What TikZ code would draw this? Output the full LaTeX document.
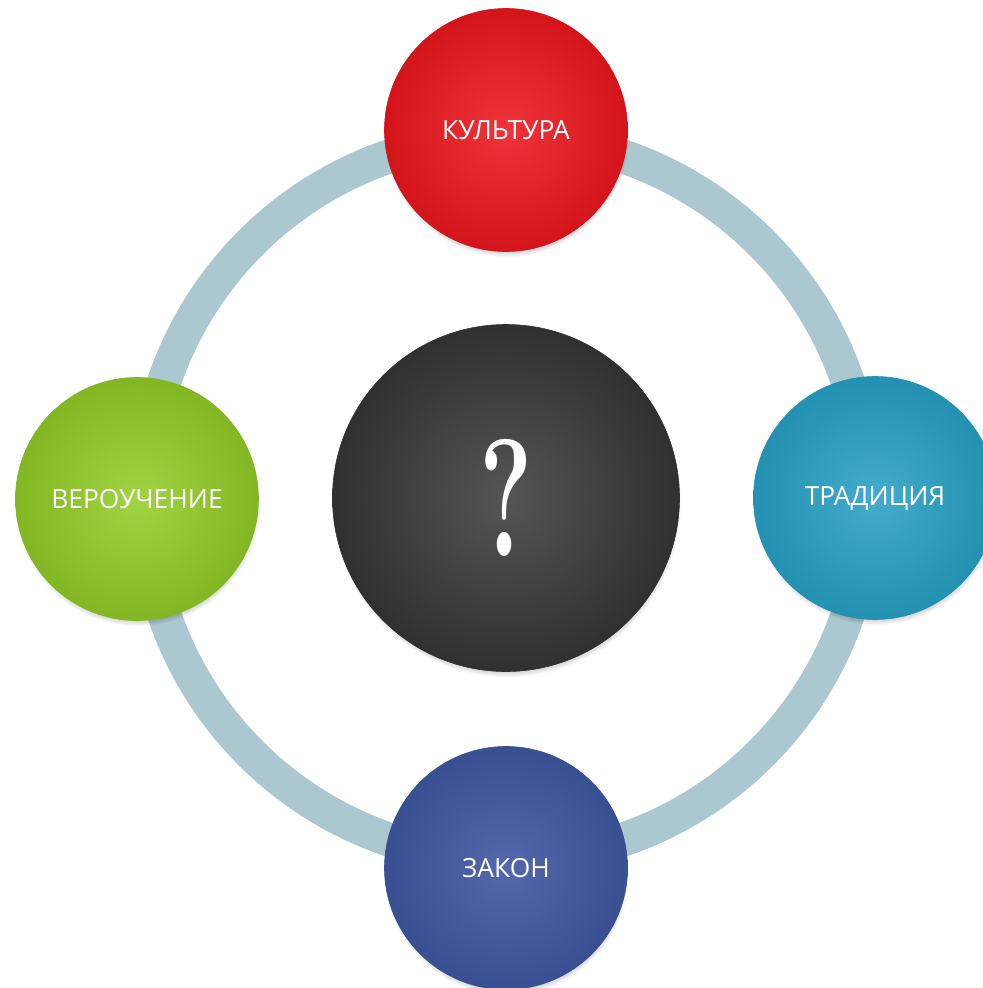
\documentclass[tikz,border=0pt]{standalone}
\usepackage{fontspec}
\setsansfont{Open Sans}
\usetikzlibrary{calc}
\definecolor{ringc}{HTML}{ABC7CF}
\definecolor{redin}{HTML}{F0333A}
\definecolor{redout}{HTML}{D3151B}
\definecolor{grnin}{HTML}{A0D442}
\definecolor{grnout}{HTML}{82B623}
\definecolor{tealin}{HTML}{44ABCB}
\definecolor{tealout}{HTML}{2391B1}
\definecolor{bluin}{HTML}{5468AB}
\definecolor{bluout}{HTML}{384F91}
\definecolor{darkin}{HTML}{555555}
\definecolor{darkout}{HTML}{303030}
\tikzset{
  ball/.style={circle, minimum size=#1, inner sep=0pt, text=white,
    font=\sffamily\fontsize{26.5}{30}\selectfont},
  ringline/.style={draw=ringc, line width=34bp},
}
\newcommand{\ballshadow}[2]{%
  \foreach \i in {1,...,7}{%
    \fill[black, opacity=0.03] ($(#1)+(1,5)$) circle[radius={#2-6+\i*1.0}];
  }%
}
\begin{document}
\begin{tikzpicture}[x=1bp, y=-1bp]
\useasboundingbox (0,0) rectangle (983,988);
\coordinate (c) at (506,498);
\draw[ringline] (c) circle[radius=361];
\coordinate (pk) at (506,130);
\coordinate (pv) at (137,499);
\coordinate (pt) at (875,498);
\coordinate (pz) at (506,868);
\ballshadow{pk}{121}
\ballshadow{pv}{121}
\ballshadow{pt}{121}
\ballshadow{pz}{121}
\ballshadow{c}{173}
\node[ball=347bp, inner color=darkin, outer color=darkout, draw=darkout, line width=0.6bp] (q) at (c)
  {\rmfamily\bfseries\fontsize{168}{168}\selectfont\scalebox{0.6}[1]{?}};
\node[ball=243bp, inner color=redin, outer color=redout, draw=redout, line width=0.6bp] (kult) at (pk) {КУЛЬТУРА};
\node[ball=243bp, inner color=grnin, outer color=grnout, draw=grnout, line width=0.6bp] (ver) at (pv) {ВЕРОУЧЕНИЕ};
\node[ball=243bp, inner color=tealin, outer color=tealout, draw=tealout, line width=0.6bp] (trad) at (pt) {ТРАДИЦИЯ};
\node[ball=243bp, inner color=bluin, outer color=bluout, draw=bluout, line width=0.6bp] (zak) at (pz) {ЗАКОН};
\end{tikzpicture}
\end{document}
